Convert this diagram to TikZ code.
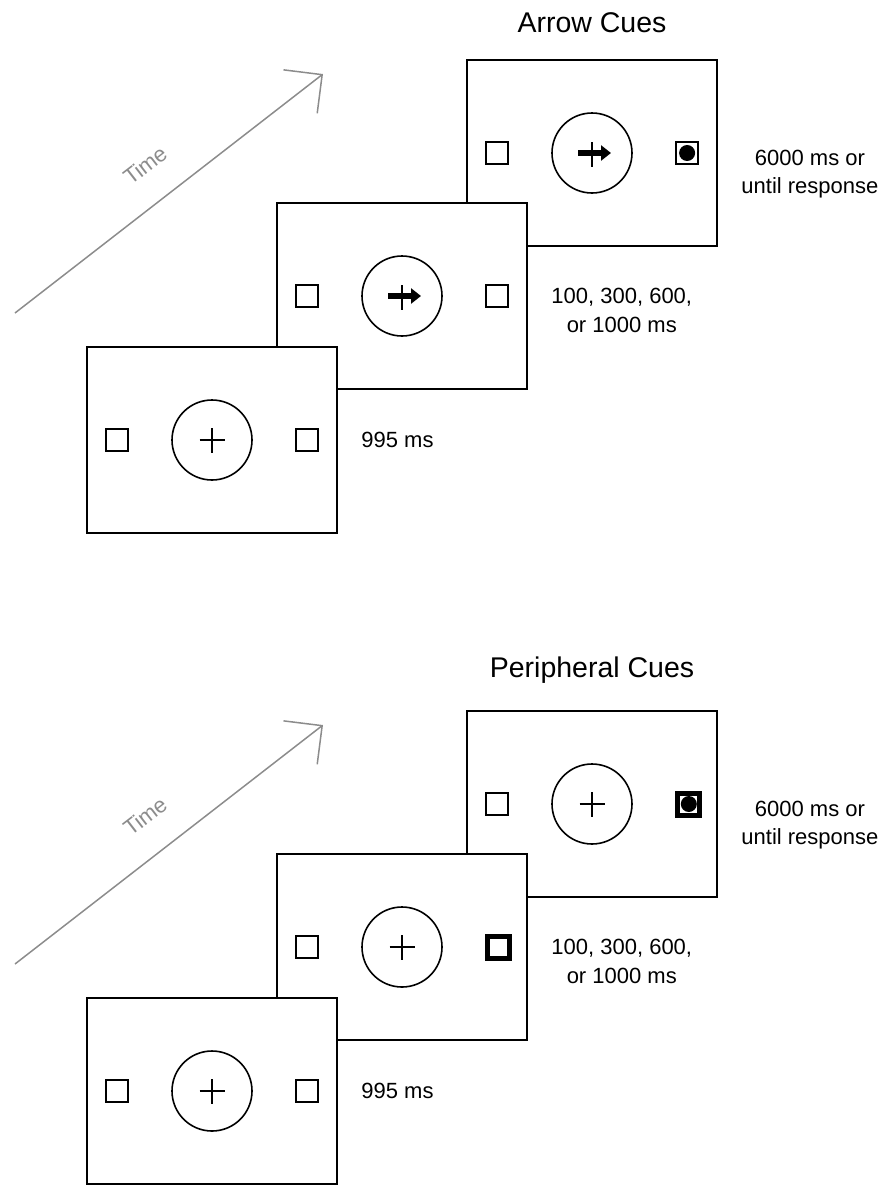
\documentclass[tikz,border=0pt]{standalone}
\usepackage{fontspec}
\setmainfont{Liberation Sans}
\usetikzlibrary{arrows.meta, positioning}
\definecolor{timegray}{gray}{0.55}

\begin{document}
\begin{tikzpicture}[
  x=1pt, y=-1pt,
  screen/.style={draw, line width=1.8pt, fill=white, minimum width=250pt, minimum height=186pt, inner sep=0pt},
  ring/.style={draw, circle, line width=1.6pt, minimum size=80pt, inner sep=0pt},
  fixring/.style={ring, path picture={
      \draw[line width=1.5pt] ([xshift=-12.5pt]path picture bounding box.center) -- ([xshift=12.5pt]path picture bounding box.center);
      \draw[line width=1.5pt] ([yshift=12pt]path picture bounding box.center) -- ([yshift=-13pt]path picture bounding box.center);}},
  arrowring/.style={ring, path picture={
      \draw[line width=1.5pt] ([yshift=11pt]path picture bounding box.center) -- ([yshift=-14pt]path picture bounding box.center);
      \draw[line width=5.5pt, -{Triangle[length=10pt, width=15pt]}] ([xshift=-14pt]path picture bounding box.center) -- ([xshift=19pt]path picture bounding box.center);}},
  placebox/.style={draw, line width=1.6pt, minimum size=22pt, inner sep=0pt},
  cuebox/.style={placebox, line width=5pt},
  target/.style={circle, fill=black, minimum size=16pt, inner sep=0pt},
  dur/.style={font=\fontsize{22}{28.5}\selectfont, align=center},
  heading/.style={font=\fontsize{28.5}{32}\selectfont},
  timeline/.style={draw=timegray, line width=1.5pt, -{Straight Barb[length=27.6pt, width=55pt]}},
  timelabel/.style={text=timegray, font=\fontsize{22}{24}\selectfont, rotate=37.7, inner sep=0pt},
  node distance=42.5pt
]
\useasboundingbox (0,0) rectangle (887,1186);

% Arrow cues
\coordinate (t1s) at (15,313);
\coordinate (t1e) at (323,74);
\draw[timeline] (t1s) -- (t1e);
\node[timelabel] (time1) at (145,165) {Time};

\node[screen] (a3) at (592,153) {};
\node[arrowring] (a3c) at (a3) {};
\node[placebox, left=of a3c]  (a3l) {};
\node[placebox, right=of a3c] (a3r) {};
\node[target] (a3t) at (a3r) {};
\node[heading, above=23pt of a3] (head1) {Arrow Cues};
\node[dur, right=20pt of a3, yshift=-21pt] (d3) {6000 ms or\\until response};

\node[screen] (a2) at (402,296) {};
\node[arrowring] (a2c) at (a2) {};
\node[placebox, left=of a2c]  (a2l) {};
\node[placebox, right=of a2c] (a2r) {};
\node[dur, right=20pt of a2, yshift=-14.5pt] (d2) {100, 300, 600,\\or 1000 ms};

\node[screen] (a1) at (212,440) {};
\node[fixring] (a1c) at (a1) {};
\node[placebox, left=of a1c]  (a1l) {};
\node[placebox, right=of a1c] (a1r) {};
\node[dur, right=20pt of a1] (d1) {995 ms};

% Peripheral cues
\coordinate (t2s) at (15,964);
\coordinate (t2e) at (323,725);
\draw[timeline] (t2s) -- (t2e);
\node[timelabel] (time2) at (145,816) {Time};

\node[screen] (p3) at (592,804) {};
\node[fixring] (p3c) at (p3) {};
\node[placebox, left=of p3c]  (p3l) {};
\node[cuebox, right=of p3c]   (p3r) {};
\node[target] (p3t) at (p3r) {};
\node[heading, above=23pt of p3] (head2) {Peripheral Cues};
\node[dur, right=20pt of p3, yshift=-21pt] (e3) {6000 ms or\\until response};

\node[screen] (p2) at (402,947) {};
\node[fixring] (p2c) at (p2) {};
\node[placebox, left=of p2c]  (p2l) {};
\node[cuebox, right=of p2c]   (p2r) {};
\node[dur, right=20pt of p2, yshift=-14.5pt] (e2) {100, 300, 600,\\or 1000 ms};

\node[screen] (p1) at (212,1091) {};
\node[fixring] (p1c) at (p1) {};
\node[placebox, left=of p1c]  (p1l) {};
\node[placebox, right=of p1c] (p1r) {};
\node[dur, right=20pt of p1] (e1) {995 ms};
\end{tikzpicture}
\end{document}
